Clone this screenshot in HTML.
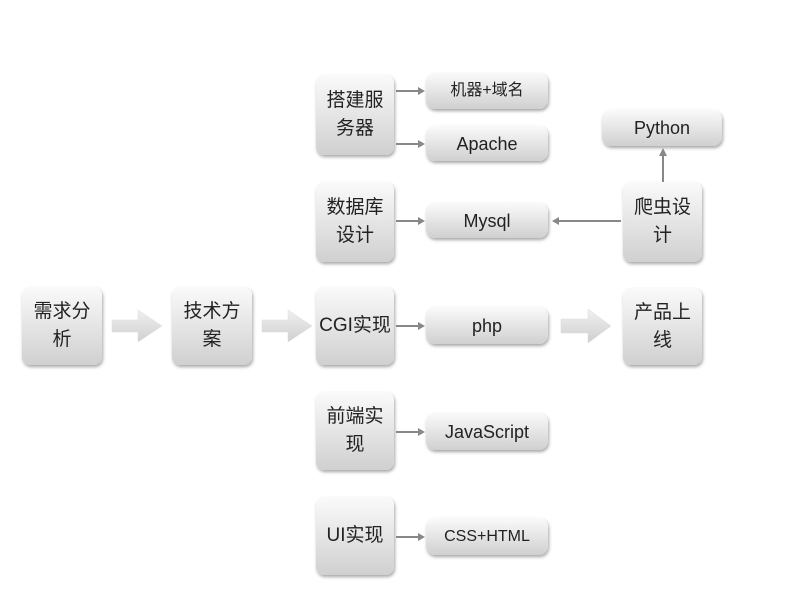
<!DOCTYPE html>
<html><head><meta charset="utf-8"><style>
body{margin:0;width:800px;height:600px;background:#fff;position:relative;overflow:hidden;font-family:"Liberation Sans","Noto Sans CJK SC",sans-serif;color:#222}
.b{position:absolute;border-radius:8px;background:linear-gradient(#fafafa,#d0d0d0);box-shadow:1px 2px 3px rgba(0,0,0,.35);display:flex;align-items:center;justify-content:center;text-align:center;font-size:19px;line-height:28px;box-sizing:border-box;padding:0 4px}
.s{border-radius:9px;font-size:18px}
.t{position:absolute;height:2px;background:#888}
.h{position:absolute;width:0;height:0;border-top:4px solid transparent;border-bottom:4px solid transparent}
</style></head><body>
<div class="b" style="left:22px;top:287px;width:80px;height:78px">需求分<br>析</div>
<div class="b" style="left:172px;top:287px;width:80px;height:78px">技术方<br>案</div>
<div class="b" style="left:316px;top:75px;width:78px;height:80px">搭建服<br>务器</div>
<div class="b" style="left:316px;top:182px;width:78px;height:80px">数据库<br>设计</div>
<div class="b" style="left:316px;top:287px;width:78px;height:78px;padding:0">CGI实现</div>
<div class="b" style="left:316px;top:392px;width:78px;height:78px">前端实<br>现</div>
<div class="b" style="left:316px;top:497px;width:78px;height:78px;padding:0">UI实现</div>
<div class="b" style="left:623px;top:288px;width:79px;height:77px">产品上<br>线</div>
<div class="b" style="left:623px;top:182px;width:79px;height:80px">爬虫设<br>计</div>
<div class="b s" style="left:426px;top:73px;width:122px;height:36px;font-size:16px">机器+域名</div>
<div class="b s" style="left:426px;top:126px;width:122px;height:35px">Apache</div>
<div class="b s" style="left:426px;top:203px;width:122px;height:35px">Mysql</div>
<div class="b s" style="left:426px;top:307px;width:122px;height:37px">php</div>
<div class="b s" style="left:426px;top:413px;width:122px;height:37px">JavaScript</div>
<div class="b s" style="left:426px;top:518px;width:122px;height:37px;font-size:16px">CSS+HTML</div>
<div class="b s" style="left:602px;top:110px;width:120px;height:36px">Python</div>
<div class="t" style="left:396px;top:90px;width:24px;height:1.5px"></div><div class="h" style="left:418px;top:87px;border-left:7px solid #888"></div>
<div class="t" style="left:396px;top:143px;width:24px;height:1.5px"></div><div class="h" style="left:418px;top:140px;border-left:7px solid #888"></div>
<div class="t" style="left:396px;top:220px;width:24px;height:1.5px"></div><div class="h" style="left:418px;top:217px;border-left:7px solid #888"></div>
<div class="t" style="left:396px;top:325px;width:24px;height:1.5px"></div><div class="h" style="left:418px;top:322px;border-left:7px solid #888"></div>
<div class="t" style="left:396px;top:431px;width:24px;height:1.5px"></div><div class="h" style="left:418px;top:428px;border-left:7px solid #888"></div>
<div class="t" style="left:396px;top:536px;width:24px;height:1.5px"></div><div class="h" style="left:418px;top:533px;border-left:7px solid #888"></div>
<div class="t" style="left:559px;top:220px;width:62px;height:1.5px"></div><div class="h" style="left:552px;top:217px;border-right:7px solid #888"></div>
<div style="position:absolute;left:662px;top:155px;width:1.5px;height:27px;background:#888"></div>
<div style="position:absolute;left:659px;top:148px;width:0;height:0;border-left:4px solid transparent;border-right:4px solid transparent;border-bottom:8px solid #888"></div>
<svg style="position:absolute;left:0;top:0" width="800" height="600">
<defs><linearGradient id="g" x1="0" y1="0" x2="0" y2="1"><stop offset="0" stop-color="#f0f0f0"/><stop offset="1" stop-color="#cfcfcf"/></linearGradient></defs>
<g fill="url(#g)" stroke="#ddd" stroke-width="0.5">
<path d="M112 320 H138 V310 L162 326 L138 342 V332 H112 Z"/>
<path d="M262 320 H288 V310 L312 326 L288 342 V332 H262 Z"/>
<path d="M561 319 H588 V309 L611 326 L588 343 V333 H561 Z"/>
</g></svg>
</body></html>
